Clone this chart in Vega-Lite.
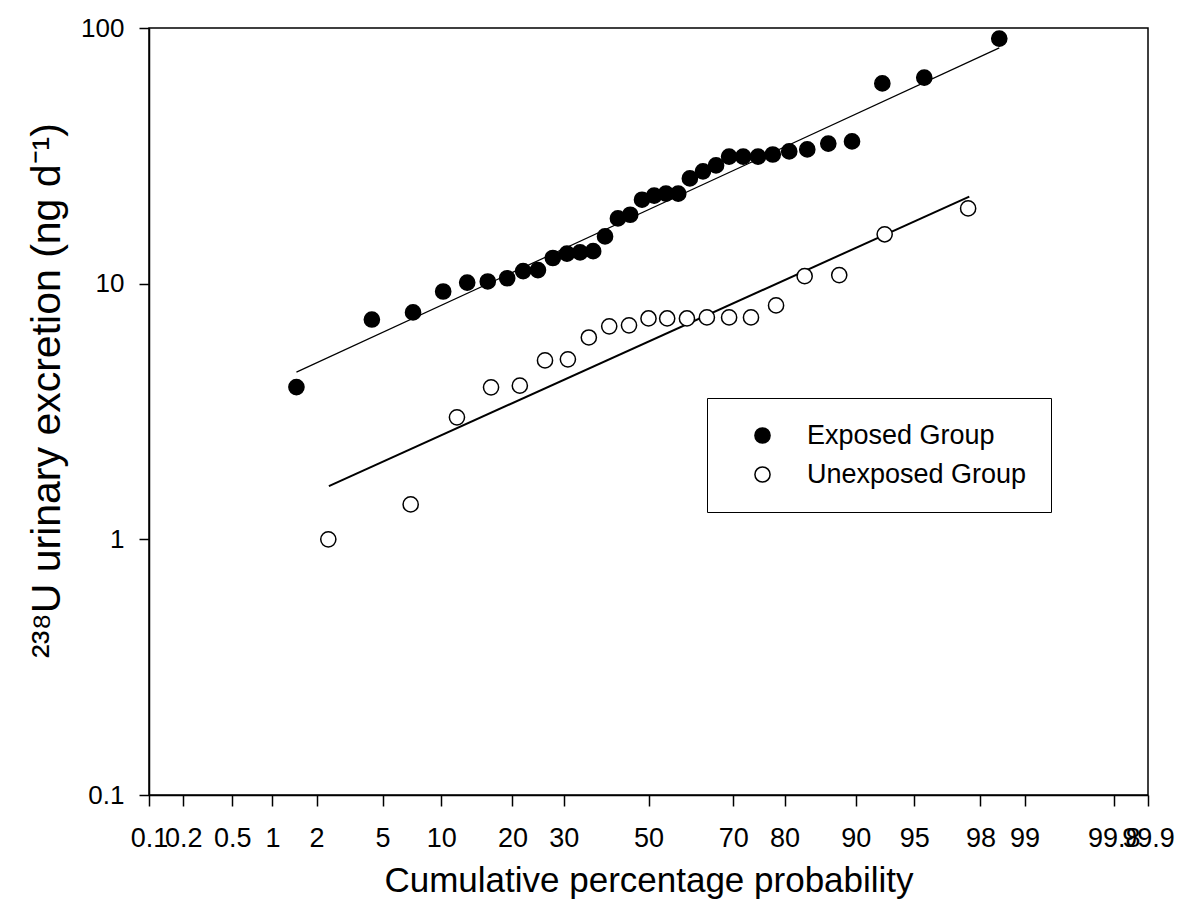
{
  "$schema": "https://vega.github.io/schema/vega-lite/v6.json",
  "width": 999,
  "height": 767,
  "autosize": {"type": "none"},
  "padding": {"left": 149, "top": 28, "right": 34, "bottom": 129},
  "background": "white",
  "config": {
    "font": "Liberation Sans",
    "view": {"stroke": "black", "strokeWidth": 1.5},
    "axis": {
      "grid": false,
      "domainColor": "black",
      "domainWidth": 1.5,
      "tickColor": "black",
      "tickWidth": 1.5,
      "labelColor": "black",
      "titleColor": "black",
      "labelFont": "Liberation Sans",
      "titleFont": "Liberation Sans",
      "titleFontWeight": "normal"
    }
  },
  "datasets": {
    "points": [
      {"group": "Exposed Group", "pct": 1.47, "value": 3.94},
      {"group": "Exposed Group", "pct": 4.35, "value": 7.24},
      {"group": "Exposed Group", "pct": 7.26, "value": 7.72},
      {"group": "Exposed Group", "pct": 10.2, "value": 9.32},
      {"group": "Exposed Group", "pct": 13.1, "value": 10.1},
      {"group": "Exposed Group", "pct": 16.0, "value": 10.2},
      {"group": "Exposed Group", "pct": 19.1, "value": 10.5},
      {"group": "Exposed Group", "pct": 21.9, "value": 11.2},
      {"group": "Exposed Group", "pct": 24.7, "value": 11.3},
      {"group": "Exposed Group", "pct": 27.7, "value": 12.6},
      {"group": "Exposed Group", "pct": 30.7, "value": 13.1},
      {"group": "Exposed Group", "pct": 33.6, "value": 13.25},
      {"group": "Exposed Group", "pct": 36.6, "value": 13.4},
      {"group": "Exposed Group", "pct": 39.4, "value": 15.3},
      {"group": "Exposed Group", "pct": 42.5, "value": 18.0},
      {"group": "Exposed Group", "pct": 45.5, "value": 18.6},
      {"group": "Exposed Group", "pct": 48.4, "value": 21.3},
      {"group": "Exposed Group", "pct": 51.4, "value": 22.1},
      {"group": "Exposed Group", "pct": 54.3, "value": 22.5},
      {"group": "Exposed Group", "pct": 57.3, "value": 22.5},
      {"group": "Exposed Group", "pct": 60.1, "value": 25.8},
      {"group": "Exposed Group", "pct": 63.2, "value": 27.5},
      {"group": "Exposed Group", "pct": 66.2, "value": 29.0},
      {"group": "Exposed Group", "pct": 69.1, "value": 31.4},
      {"group": "Exposed Group", "pct": 72.1, "value": 31.4},
      {"group": "Exposed Group", "pct": 75.1, "value": 31.4},
      {"group": "Exposed Group", "pct": 77.9, "value": 32.0},
      {"group": "Exposed Group", "pct": 80.8, "value": 32.9},
      {"group": "Exposed Group", "pct": 83.7, "value": 33.5},
      {"group": "Exposed Group", "pct": 86.7, "value": 35.3},
      {"group": "Exposed Group", "pct": 89.6, "value": 36.0},
      {"group": "Exposed Group", "pct": 92.6, "value": 60.7},
      {"group": "Exposed Group", "pct": 95.6, "value": 64.0},
      {"group": "Exposed Group", "pct": 98.5, "value": 90.9},
      {"group": "Unexposed Group", "pct": 2.38, "value": 1.0},
      {"group": "Unexposed Group", "pct": 7.06, "value": 1.37},
      {"group": "Unexposed Group", "pct": 11.8, "value": 3.0},
      {"group": "Unexposed Group", "pct": 16.5, "value": 3.93},
      {"group": "Unexposed Group", "pct": 21.3, "value": 3.99},
      {"group": "Unexposed Group", "pct": 26.1, "value": 5.01},
      {"group": "Unexposed Group", "pct": 30.9, "value": 5.06},
      {"group": "Unexposed Group", "pct": 35.6, "value": 6.16},
      {"group": "Unexposed Group", "pct": 40.4, "value": 6.81},
      {"group": "Unexposed Group", "pct": 45.2, "value": 6.87},
      {"group": "Unexposed Group", "pct": 50.0, "value": 7.31},
      {"group": "Unexposed Group", "pct": 54.6, "value": 7.31},
      {"group": "Unexposed Group", "pct": 59.4, "value": 7.31},
      {"group": "Unexposed Group", "pct": 64.1, "value": 7.38},
      {"group": "Unexposed Group", "pct": 69.1, "value": 7.38},
      {"group": "Unexposed Group", "pct": 73.7, "value": 7.38},
      {"group": "Unexposed Group", "pct": 78.5, "value": 8.22},
      {"group": "Unexposed Group", "pct": 83.3, "value": 10.7},
      {"group": "Unexposed Group", "pct": 88.1, "value": 10.8},
      {"group": "Unexposed Group", "pct": 92.8, "value": 15.6},
      {"group": "Unexposed Group", "pct": 97.6, "value": 19.7}
    ],
    "fits": [
      {"group": "Exposed Group", "pct": 1.47, "value": 4.51},
      {"group": "Exposed Group", "pct": 98.5, "value": 83.6},
      {"group": "Unexposed Group", "pct": 2.40, "value": 1.616},
      {"group": "Unexposed Group", "pct": 97.64, "value": 21.9}
    ]
  },
  "encoding": {
    "x": {
      "field": "z",
      "type": "quantitative",
      "scale": {"domain": [-3.090232, 3.090232], "nice": false, "zero": false},
      "axis": {
        "title": "Cumulative percentage probability",
        "values": [-3.090232, -2.878162, -2.575829, -2.326348, -2.053749, -1.644854, -1.281552, -0.841621, -0.524401, 0, 0.524401, 0.841621, 1.281552, 1.644854, 2.053749, 2.326348, 2.878162, 3.090232],
        "labelExpr": "format(cumulativeNormal(datum.value) * 100, '.3~g')",
        "labelFontSize": 27,
        "tickSize": 11,
        "labelPadding": 19,
        "labelOverlap": false,
        "labelBound": false,
        "labelFlush": false,
        "titleFontSize": 35,
        "titleY": 96,
        "titleBaseline": "alphabetic"
      }
    },
    "y": {
      "field": "value",
      "type": "quantitative",
      "scale": {"type": "log", "domain": [0.1, 100], "nice": false},
      "axis": {
        "title": "²³⁸U urinary excretion (ng d⁻¹)",
        "values": [0.1, 1, 10, 100],
        "format": "~g",
        "labelFontSize": 26,
        "tickSize": 10,
        "labelPadding": 15,
        "labelOverlap": false,
        "titleFontSize": 41,
        "titleAngle": -90,
        "titleX": -90,
        "titleY": 362,
        "titleAlign": "center",
        "titleBaseline": "alphabetic"
      }
    }
  },
  "layer": [
    {
      "data": {"name": "fits"},
      "transform": [
        {"filter": "datum.group === 'Exposed Group'"},
        {"calculate": "quantileNormal(datum.pct / 100)", "as": "z"}
      ],
      "mark": {"type": "line", "color": "black", "strokeWidth": 1.2}
    },
    {
      "data": {"name": "fits"},
      "transform": [
        {"filter": "datum.group === 'Unexposed Group'"},
        {"calculate": "quantileNormal(datum.pct / 100)", "as": "z"}
      ],
      "mark": {"type": "line", "color": "black", "strokeWidth": 2}
    },
    {
      "data": {"name": "points"},
      "transform": [
        {"calculate": "quantileNormal(datum.pct / 100)", "as": "z"}
      ],
      "mark": {"type": "point", "shape": "circle", "size": 230, "stroke": "black", "strokeWidth": 1.5, "opacity": 1, "fillOpacity": 1, "strokeOpacity": 1},
      "encoding": {
        "fill": {
          "field": "group",
          "type": "nominal",
          "scale": {"domain": ["Exposed Group", "Unexposed Group"], "range": ["black", "white"]},
          "legend": {
            "title": null,
            "orient": "none",
            "legendX": 558,
            "legendY": 370,
            "strokeColor": "black",
            "fillColor": "white",
            "padding": 24,
            "symbolType": "circle",
            "symbolSize": 230,
            "symbolStrokeColor": "black",
            "symbolStrokeWidth": 1.5,
            "symbolOpacity": 1,
            "symbolOffset": 18,
            "labelOffset": 31,
            "labelLimit": 500,
            "labelFontSize": 27,
            "labelFont": "Liberation Sans",
            "labelColor": "black",
            "rowPadding": 11
          }
        }
      }
    }
  ]
}
